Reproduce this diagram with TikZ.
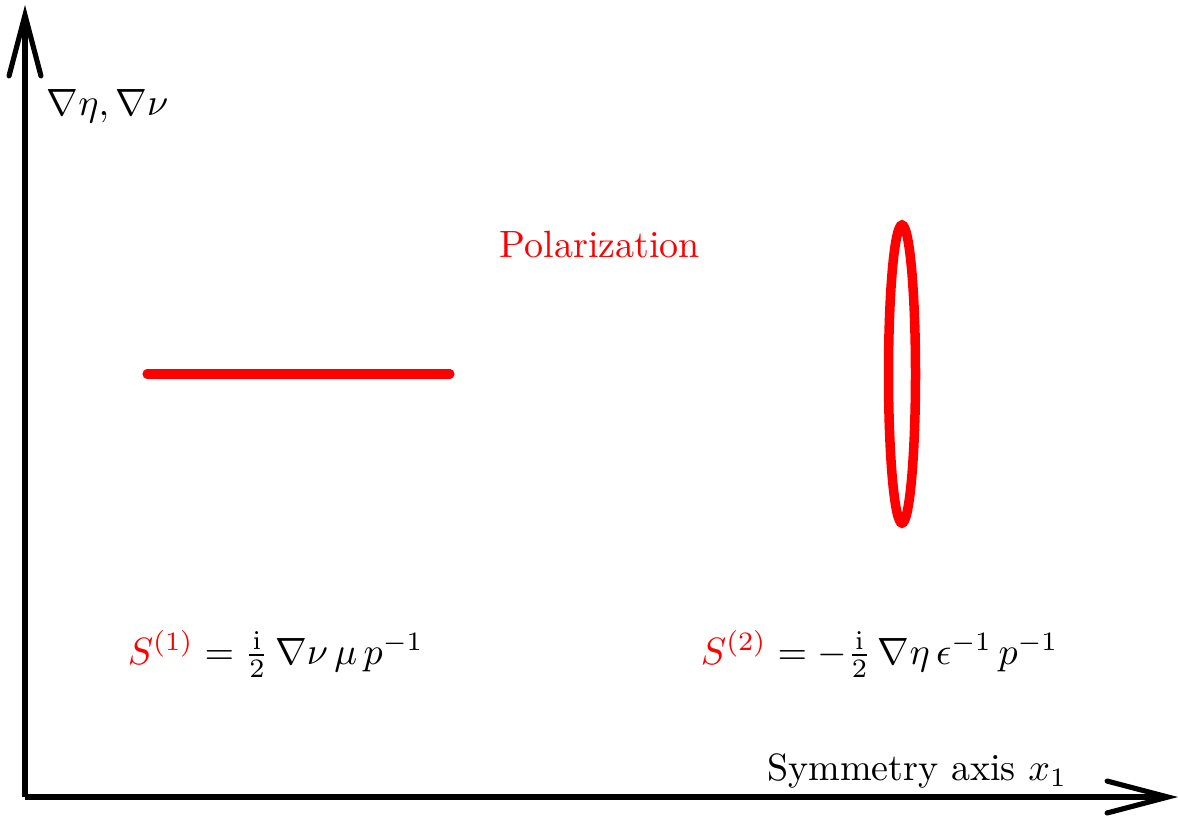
\documentclass[tikz,border=0pt]{standalone}
\usepackage{amsmath}
\usetikzlibrary{arrows.meta}
\begin{document}
\begin{tikzpicture}[x=0.2632pt,y=-0.2632pt,
  axis/.style={line width=1.35pt,-{Straight Barb[length=16pt,width=8.4pt,line cap=round]}},
  redline/.style={red,line width=2.4pt,line cap=round},
  lbl/.style={inner sep=0pt,font=\normalsize}]
\useasboundingbox (0,0) rectangle (1178,815);
\coordinate (O) at (25,797);
\coordinate (Ytip) at (25,5);
\coordinate (Xtip) at (1178,797);
\draw[axis] (O) -- (Ytip);
\draw[axis] (O) -- (Xtip);
\node[lbl,anchor=west] (ylab) at (46,106) {$\nabla\eta,\nabla\nu$};
\node[lbl,anchor=east] (xlab) at (1068,771) {Symmetry axis $x_1$};
\node[lbl,text=red] (pol) at (600,245) {Polarization};
\coordinate (La) at (147,374);
\coordinate (Lb) at (450,374);
\draw[redline] (La) -- (Lb);
\draw[red,line width=2.5pt] (902,374) ellipse [x radius=13.5, y radius=149];
\node[lbl,anchor=west] (s1) at (127,654) {$\textcolor{red}{S^{(1)}} = \frac{\mathrm{i}}{2}\,\nabla\nu\,\mu\,p^{-1}$};
\node[lbl,anchor=west] (s2) at (700,654) {$\textcolor{red}{S^{(2)}} = -\frac{\mathrm{i}}{2}\,\nabla\eta\,\epsilon^{-1}\,p^{-1}$};
\end{tikzpicture}
\end{document}
